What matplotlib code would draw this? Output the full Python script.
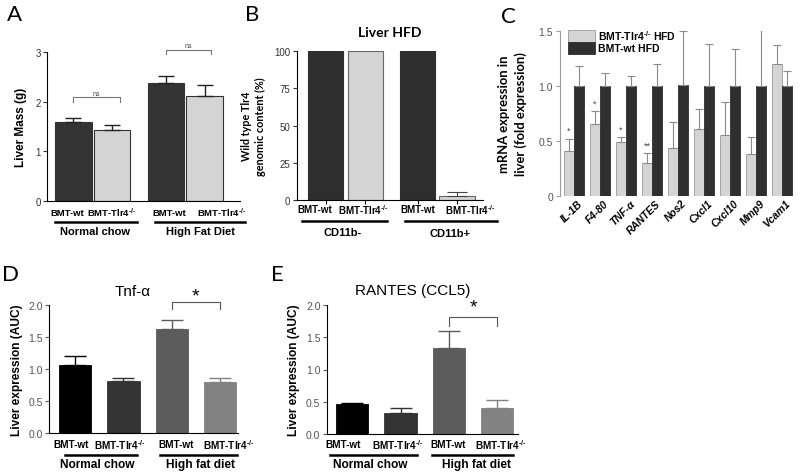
import matplotlib
matplotlib.use("Agg")
import matplotlib.pyplot as plt
import matplotlib.transforms as mtrans
from matplotlib.lines import Line2D

plt.rcParams['font.family'] = ['Liberation Sans', 'DejaVu Sans']
plt.rcParams['mathtext.fontset'] = 'custom'
plt.rcParams['mathtext.rm'] = 'Liberation Sans:bold'
plt.rcParams['mathtext.bf'] = 'Liberation Sans:bold'
plt.rcParams['mathtext.it'] = 'Liberation Sans:bold:italic'

# ---- data ----
bmt_labels = ["BMT-wt", r"BMT-Tlr4$^{\text{-/-}}$", "BMT-wt", r"BMT-Tlr4$^{\text{-/-}}$"]

diet_a = ["Normal chow", "High Fat Diet"]
liver_mass = [1.59, 1.43, 2.37, 2.12]
liver_mass_err = [0.08, 0.11, 0.15, 0.22]

cells_b = ["CD11b-", "CD11b+"]
tlr4_content = [100, 100, 100, 2.8]
tlr4_content_err = [0, 0, 0, 2.3]

genes = ["IL-1B", "F4-80", "TNF-α", "RANTES", "Nos2", "Cxcl1", "Cxcl10", "Mmp9", "Vcam1"]
ko_expr = [0.41, 0.65, 0.49, 0.30, 0.43, 0.61, 0.555, 0.375, 1.20]
ko_err = [0.11, 0.12, 0.04, 0.09, 0.24, 0.18, 0.295, 0.155, 0.17]
wt_expr = [1.0, 1.0, 1.0, 1.0, 1.01, 1.0, 1.0, 1.0, 1.0]
wt_err = [0.18, 0.12, 0.09, 0.20, 0.49, 0.38, 0.33, 0.51, 0.13]
ko_sig = ["*", "*", "*", "**", "", "", "", "", ""]

diet_de = ["Normal chow", "High fat diet"]
tnf = [1.07, 0.81, 1.62, 0.80]
tnf_err = [0.13, 0.05, 0.15, 0.06]
rantes = [0.47, 0.33, 1.34, 0.41]
rantes_err = [0.01, 0.07, 0.25, 0.12]

W, H = 800, 477
fig = plt.figure(figsize=(W / 100, H / 100), dpi=100)


def axes_px(left, right, top, bottom):
    return fig.add_axes([left / W, 1 - bottom / H, (right - left) / W, (bottom - top) / H])


def ftext(x, y, s, **kw):
    fig.text(x / W, 1 - y / H, s, **kw)


def uline(x1, x2, y, lw=1.8):
    fig.add_artist(Line2D([x1 / W, x2 / W], [1 - y / H, 1 - y / H], color='black', lw=lw))


def style(ax):
    ax.spines['top'].set_visible(False)
    ax.spines['right'].set_visible(False)
    ax.tick_params(axis='y', length=3, width=0.8, labelsize=7, pad=1.5, colors='#333333')
    ax.tick_params(axis='x', length=0, labelbottom=False)


def bracket(ax, x1, x2, y, h, color='#777777', lw=0.8):
    ax.plot([x1, x1, x2, x2], [y - h, y, y, y - h], color=color, lw=lw, clip_on=False)


# ---- panel A ----
ax = axes_px(47, 240, 53.3, 201.7)
pos_a = [0, 1, 2.4, 3.4]
ax.bar(pos_a, liver_mass, width=0.95, color=['#333333', '#d4d4d4', '#333333', '#d4d4d4'],
       edgecolor='#333333', linewidth=0.8)
ax.errorbar(pos_a, liver_mass, yerr=[[0] * 4, liver_mass_err], fmt='none', ecolor='#222222',
            elinewidth=1, capsize=6, capthick=1)
ax.set_xlim(-0.68, 4.31)
ax.set_ylim(0, 3)
ax.set_yticks([0, 1, 2, 3])
style(ax)
ax.set_ylabel("Liver Mass (g)", fontsize=8.5, fontweight='bold', labelpad=6)
bracket(ax, pos_a[0], pos_a[1] + 0.2, 2.09, 0.09)
ax.text((pos_a[0] + pos_a[1] + 0.2) / 2, 2.17, "ns", ha='center', va='center', fontsize=5, color='#444444')
bracket(ax, pos_a[2], pos_a[3] + 0.15, 3.05, 0.08)
ax.text((pos_a[2] + pos_a[3] + 0.15) / 2, 3.14, "ns", ha='center', va='center', fontsize=5, color='#444444')
for x, lab in zip([67, 112, 169, 222], bmt_labels):
    ftext(x, 213, lab, ha='center', va='center', fontsize=6.8, fontweight='bold')
uline(55, 137, 222.5)
uline(155, 245, 222.5)
ftext(95, 232, diet_a[0], ha='center', va='center', fontsize=8, fontweight='bold')
ftext(200, 232, diet_a[1], ha='center', va='center', fontsize=8, fontweight='bold')

# ---- panel B ----
ax = axes_px(296.7, 483, 52.3, 201)
pos_b = [0, 1, 2.33, 3.33]
ax.bar(pos_b, tlr4_content, width=0.89, color=['#2e2e2e', '#d4d4d4', '#2e2e2e', '#d4d4d4'],
       edgecolor=['#2e2e2e', '#666666', '#2e2e2e', '#666666'], linewidth=0.8)
for x, v, e in zip(pos_b, tlr4_content, tlr4_content_err):
    if e > 0:
        ax.errorbar([x], [v], yerr=[[0], [e]], fmt='none', ecolor='#444444', elinewidth=0.8,
                    capsize=7, capthick=0.8)
ax.set_xlim(-0.74, 3.99)
ax.set_ylim(0, 100)
ax.set_yticks([0, 25, 50, 75, 100])
style(ax)
ax.set_xticks(pos_b)
ax.tick_params(axis='x', length=3, width=0.8, labelbottom=False)
ax.set_title("Liver HFD", fontsize=10, fontweight='bold', family=['Lato', 'DejaVu Sans'], pad=11)
ax.set_ylabel("Wild type Tlr4\ngenomic content (%)", fontsize=7.8, fontweight='bold',
              family=['Lato', 'DejaVu Sans'], labelpad=6, linespacing=1.3)
for x, lab in zip([315, 363.5, 418, 470], bmt_labels):
    ftext(x, 210, lab, ha='center', va='center', fontsize=7, fontweight='bold')
uline(302, 387, 221.5)
uline(405, 497, 221.5)
ftext(343, 233, cells_b[0], ha='center', va='center', fontsize=8, fontweight='bold')
ftext(450, 234, cells_b[1], ha='center', va='center', fontsize=8, fontweight='bold')

# ---- panel C ----
ax = axes_px(560, 795, 31.7, 196.7)
pos_c = list(range(len(genes)))
bw = 0.385
xk = [p - bw / 2 for p in pos_c]
xw = [p + bw / 2 for p in pos_c]
ax.bar(xk, ko_expr, width=bw, color='#d4d4d4', edgecolor='#9a9a9a', linewidth=0.6,
       label=r'BMT-Tlr4$^{\text{-/-}}$ HFD')
ax.bar(xw, wt_expr, width=bw, color='#2f2f2f', edgecolor='#2f2f2f', linewidth=0.6,
       label='BMT-wt HFD')
ax.errorbar(xk, ko_expr, yerr=[[0] * len(genes), ko_err], fmt='none', ecolor='#8a8a8a',
            elinewidth=0.8, capsize=3, capthick=0.8)
ax.errorbar(xw, wt_expr, yerr=[[0] * len(genes), wt_err], fmt='none', ecolor='#8a8a8a',
            elinewidth=0.8, capsize=3, capthick=0.8)
for x, v, e, s in zip(xk, ko_expr, ko_err, ko_sig):
    if s:
        ax.text(x, v + e + 0.03, s, ha='center', va='bottom', fontsize=6.5, color='#444444')
ax.set_xlim(-0.54, 8.5)
ax.set_ylim(0, 1.5)
ax.set_yticks([0, 0.5, 1.0, 1.5])
ax.set_yticklabels(['0', '0.5', '1.0', '1.5'])
for sp in ['top', 'right', 'bottom']:
    ax.spines[sp].set_visible(False)
ax.spines['left'].set_color('#9a9a9a')
ax.tick_params(axis='y', length=3, width=0.8, colors='#9a9a9a', labelcolor='#555555', labelsize=7.5, pad=2)
ax.set_xticks(pos_c)
ax.set_xticklabels(genes, rotation=45, ha='right', va='center', rotation_mode='anchor',
                   fontsize=7.5, fontweight='bold', fontstyle='italic')
ax.tick_params(axis='x', length=0, pad=4)
shift = mtrans.ScaledTranslation(7 / 100, 0, fig.dpi_scale_trans)
for t in ax.get_xticklabels():
    t.set_transform(t.get_transform() + shift)
ax.set_ylabel("mRNA expression in\nliver (fold expression)", fontsize=9.4, fontweight='bold',
              family=['Lato', 'DejaVu Sans'], labelpad=8, linespacing=1.45)
ax.legend(loc='upper left', bbox_to_anchor=(8 / 235, 1.017), frameon=False,
          prop={'weight': 'bold', 'size': 7.5}, handlelength=2.6, handleheight=1.35,
          labelspacing=0, handletextpad=0.25, borderpad=0, borderaxespad=0)

# ---- panels D and E ----
de_colors = ['#000000', '#333333', '#5c5c5c', '#828282']


def expr_panel(left, right, bottom, vals, errs, title, title_x, star_y, br_y, br_h, lab_x, ul, grp_x):
    ax = axes_px(left, right, 306, bottom)
    pos = [0, 1, 2, 3]
    ax.bar(pos, vals, width=0.67, color=de_colors, edgecolor=de_colors, linewidth=0.6)
    for x, v, e, c in zip(pos, vals, errs, de_colors):
        ax.errorbar([x], [v], yerr=[[0], [e]], fmt='none', ecolor=c, elinewidth=1,
                    capsize=8, capthick=1)
    ax.set_ylim(0, 2)
    ax.set_yticks([0, 0.5, 1.0, 1.5, 2.0])
    ax.set_yticklabels(['0.0', '0.5', '1.0', '1.5', '2.0'])
    style(ax)
    ax.tick_params(axis='y', labelsize=7.5, colors='#555555')
    ax.set_ylabel("Liver expression (AUC)", fontsize=8.6, fontweight='bold', labelpad=4)
    bracket(ax, pos[2], pos[3], br_y, br_h, color='#555555')
    ax.text((pos[2] + pos[3]) / 2, star_y, "*", ha='center', va='center', fontsize=14)
    ftext(title_x, 291.5, title, ha='center', va='center', fontsize=11)
    for x, lab in zip(lab_x, bmt_labels):
        ftext(x, 445, lab, ha='center', va='center', fontsize=7.2, fontweight='bold')
    uline(ul[0], ul[1], 455.5)
    uline(ul[2], ul[3], 455.5)
    ftext(grp_x[0], 465, diet_de[0], ha='center', va='center', fontsize=8.6, fontweight='bold')
    ftext(grp_x[1], 465, diet_de[1], ha='center', va='center', fontsize=8.6, fontweight='bold')
    return ax


ax = expr_panel(49.3, 238, 434, tnf, tnf_err, "Tnf-α", 133, 2.14, 2.04, 0.1,
                [70.7, 120, 175.8, 229], [65, 137, 160, 237], [97, 200])
ax.set_xlim(-0.53, 3.37)
ax = expr_panel(326.7, 518, 435, rantes, rantes_err, "RANTES (CCL5)", 413, 1.97, 1.81, 0.13,
                [343, 397.5, 448.5, 501], [330, 417, 432, 513], [370, 477])
ax.set_xlim(-0.53, 3.43)

# panel letters
for s, x, y in [("A", 14, 15), ("B", 252, 15), ("C", 508, 17), ("D", 10, 275), ("E", 277, 275)]:
    ftext(x, y, s, ha='center', va='center', fontsize=16, family=['Lato', 'DejaVu Sans'])

fig.savefig("out.png", dpi=100)
